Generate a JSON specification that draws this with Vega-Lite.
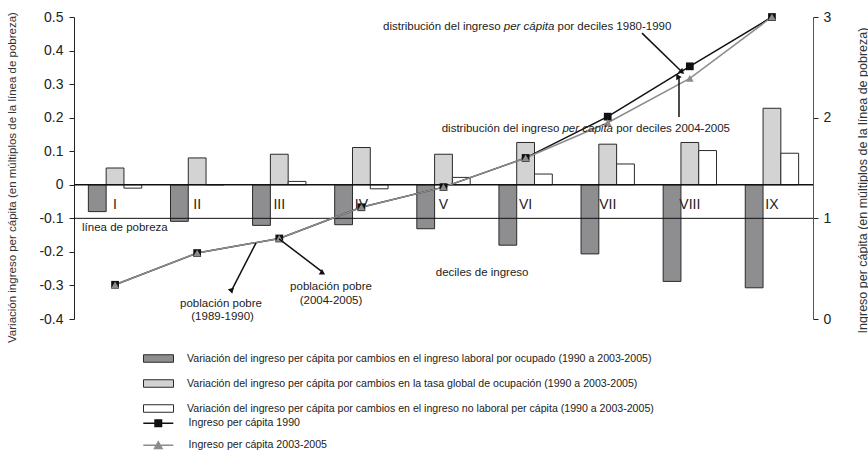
{
  "$schema": "https://vega.github.io/schema/vega-lite/v6.json",
  "width": 739,
  "height": 302,
  "autosize": "none",
  "padding": {"left": 74, "top": 17, "right": 55, "bottom": 131},
  "config": {
    "font": "Liberation Sans",
    "view": {"stroke": null},
    "axis": {"grid": false, "titleFontWeight": "normal", "labelColor": "#222", "titleColor": "#333", "domainColor": "#222", "tickColor": "#222", "tickSize": 5, "labelFontSize": 14, "labelOverlap": false}
  },
  "datasets": {
    "barras": [
      {"decil": "I", "serie": "Variación del ingreso per cápita por cambios en el ingreso laboral por ocupado (1990 a 2003-2005)", "valor": -0.08},
      {"decil": "I", "serie": "Variación del ingreso per cápita por cambios en la tasa global de ocupación (1990 a 2003-2005)", "valor": 0.05},
      {"decil": "I", "serie": "Variación del ingreso per cápita por cambios en el ingreso no laboral per cápita (1990 a 2003-2005)", "valor": -0.01},
      {"decil": "II", "serie": "Variación del ingreso per cápita por cambios en el ingreso laboral por ocupado (1990 a 2003-2005)", "valor": -0.109},
      {"decil": "II", "serie": "Variación del ingreso per cápita por cambios en la tasa global de ocupación (1990 a 2003-2005)", "valor": 0.08},
      {"decil": "II", "serie": "Variación del ingreso per cápita por cambios en el ingreso no laboral per cápita (1990 a 2003-2005)", "valor": 0.0},
      {"decil": "III", "serie": "Variación del ingreso per cápita por cambios en el ingreso laboral por ocupado (1990 a 2003-2005)", "valor": -0.121},
      {"decil": "III", "serie": "Variación del ingreso per cápita por cambios en la tasa global de ocupación (1990 a 2003-2005)", "valor": 0.091},
      {"decil": "III", "serie": "Variación del ingreso per cápita por cambios en el ingreso no laboral per cápita (1990 a 2003-2005)", "valor": 0.01},
      {"decil": "IV", "serie": "Variación del ingreso per cápita por cambios en el ingreso laboral por ocupado (1990 a 2003-2005)", "valor": -0.119},
      {"decil": "IV", "serie": "Variación del ingreso per cápita por cambios en la tasa global de ocupación (1990 a 2003-2005)", "valor": 0.111},
      {"decil": "IV", "serie": "Variación del ingreso per cápita por cambios en el ingreso no laboral per cápita (1990 a 2003-2005)", "valor": -0.012},
      {"decil": "V", "serie": "Variación del ingreso per cápita por cambios en el ingreso laboral por ocupado (1990 a 2003-2005)", "valor": -0.131},
      {"decil": "V", "serie": "Variación del ingreso per cápita por cambios en la tasa global de ocupación (1990 a 2003-2005)", "valor": 0.091},
      {"decil": "V", "serie": "Variación del ingreso per cápita por cambios en el ingreso no laboral per cápita (1990 a 2003-2005)", "valor": 0.022},
      {"decil": "VI", "serie": "Variación del ingreso per cápita por cambios en el ingreso laboral por ocupado (1990 a 2003-2005)", "valor": -0.18},
      {"decil": "VI", "serie": "Variación del ingreso per cápita por cambios en la tasa global de ocupación (1990 a 2003-2005)", "valor": 0.126},
      {"decil": "VI", "serie": "Variación del ingreso per cápita por cambios en el ingreso no laboral per cápita (1990 a 2003-2005)", "valor": 0.032},
      {"decil": "VII", "serie": "Variación del ingreso per cápita por cambios en el ingreso laboral por ocupado (1990 a 2003-2005)", "valor": -0.206},
      {"decil": "VII", "serie": "Variación del ingreso per cápita por cambios en la tasa global de ocupación (1990 a 2003-2005)", "valor": 0.121},
      {"decil": "VII", "serie": "Variación del ingreso per cápita por cambios en el ingreso no laboral per cápita (1990 a 2003-2005)", "valor": 0.062},
      {"decil": "VIII", "serie": "Variación del ingreso per cápita por cambios en el ingreso laboral por ocupado (1990 a 2003-2005)", "valor": -0.288},
      {"decil": "VIII", "serie": "Variación del ingreso per cápita por cambios en la tasa global de ocupación (1990 a 2003-2005)", "valor": 0.126},
      {"decil": "VIII", "serie": "Variación del ingreso per cápita por cambios en el ingreso no laboral per cápita (1990 a 2003-2005)", "valor": 0.102},
      {"decil": "IX", "serie": "Variación del ingreso per cápita por cambios en el ingreso laboral por ocupado (1990 a 2003-2005)", "valor": -0.307},
      {"decil": "IX", "serie": "Variación del ingreso per cápita por cambios en la tasa global de ocupación (1990 a 2003-2005)", "valor": 0.228},
      {"decil": "IX", "serie": "Variación del ingreso per cápita por cambios en el ingreso no laboral per cápita (1990 a 2003-2005)", "valor": 0.094}
    ],
    "ingreso": [
      {"decil": "I", "serie2": "Ingreso per cápita 1990", "ingreso": 0.34},
      {"decil": "II", "serie2": "Ingreso per cápita 1990", "ingreso": 0.655},
      {"decil": "III", "serie2": "Ingreso per cápita 1990", "ingreso": 0.80},
      {"decil": "IV", "serie2": "Ingreso per cápita 1990", "ingreso": 1.11},
      {"decil": "V", "serie2": "Ingreso per cápita 1990", "ingreso": 1.31},
      {"decil": "VI", "serie2": "Ingreso per cápita 1990", "ingreso": 1.60},
      {"decil": "VII", "serie2": "Ingreso per cápita 1990", "ingreso": 2.01},
      {"decil": "VIII", "serie2": "Ingreso per cápita 1990", "ingreso": 2.51},
      {"decil": "IX", "serie2": "Ingreso per cápita 1990", "ingreso": 3.0},
      {"decil": "I", "serie2": "Ingreso per cápita 2003-2005", "ingreso": 0.34},
      {"decil": "II", "serie2": "Ingreso per cápita 2003-2005", "ingreso": 0.655},
      {"decil": "III", "serie2": "Ingreso per cápita 2003-2005", "ingreso": 0.80},
      {"decil": "IV", "serie2": "Ingreso per cápita 2003-2005", "ingreso": 1.11},
      {"decil": "V", "serie2": "Ingreso per cápita 2003-2005", "ingreso": 1.31},
      {"decil": "VI", "serie2": "Ingreso per cápita 2003-2005", "ingreso": 1.60},
      {"decil": "VII", "serie2": "Ingreso per cápita 2003-2005", "ingreso": 1.95},
      {"decil": "VIII", "serie2": "Ingreso per cápita 2003-2005", "ingreso": 2.39},
      {"decil": "IX", "serie2": "Ingreso per cápita 2003-2005", "ingreso": 3.0}
    ],
    "deciles": [
      {"decil": "I"}, {"decil": "II"}, {"decil": "III"}, {"decil": "IV"}, {"decil": "V"},
      {"decil": "VI"}, {"decil": "VII"}, {"decil": "VIII"}, {"decil": "IX"}
    ],
    "rotulos": [
      {"texto": "línea de pobreza", "u": 0.62, "v": -0.128},
      {"texto": "deciles de ingreso", "u": 4.97, "v": -0.262},
      {"texto": "población pobre", "u": 1.79, "v": -0.354},
      {"texto": "(1989-1990)", "u": 1.81, "v": -0.393},
      {"texto": "población pobre", "u": 3.13, "v": -0.304},
      {"texto": "(2004-2005)", "u": 3.13, "v": -0.345}
    ],
    "rotulos_normal": [
      {"texto": "distribución del ingreso", "u": 3.763, "v": 0.470},
      {"texto": "por deciles 1980-1990", "u": 5.889, "v": 0.470},
      {"texto": "distribución del ingreso", "u": 4.478, "v": 0.167},
      {"texto": "por deciles 2004-2005", "u": 6.603, "v": 0.167}
    ],
    "rotulos_cursiva": [
      {"texto": "per cápita", "u": 5.234, "v": 0.470},
      {"texto": "per cápita", "u": 5.949, "v": 0.167}
    ],
    "flechas": [
      {"flecha": "1980-1990", "u1": 6.918, "v1": 0.452, "u2": 7.405, "v2": 0.336},
      {"flecha": "2004-2005", "u1": 7.368, "v1": 0.202, "u2": 7.368, "v2": 0.321},
      {"flecha": "pobre 1989-1990", "u1": 2.217, "v1": -0.173, "u2": 1.924, "v2": -0.3125},
      {"flecha": "pobre 2004-2005", "u1": 2.497, "v1": -0.161, "u2": 3.02, "v2": -0.259}
    ]
  },
  "layer": [
    {
      "data": {"name": "barras"},
      "mark": {"type": "bar", "stroke": "#2a2a2a", "strokeWidth": 1},
      "encoding": {
        "x": {"field": "decil", "type": "nominal", "sort": ["I", "II", "III", "IV", "V", "VI", "VII", "VIII", "IX"], "scale": {"type": "band", "paddingInner": 0.35, "paddingOuter": 0.175}, "axis": null},
        "xOffset": {"field": "serie", "type": "nominal", "sort": null, "scale": {"paddingInner": 0, "paddingOuter": 0}},
        "y": {"field": "valor", "type": "quantitative", "scale": {"domain": [-0.4, 0.5], "nice": false, "zero": false},
          "axis": {"orient": "left", "values": [-0.4, -0.3, -0.2, -0.1, 0, 0.1, 0.2, 0.3, 0.4, 0.5], "labelOverlap": false, "labelExpr": "replace(format(datum.value, '.1~f'), '\u2212', '-')", "labelPadding": 6,
            "title": "Variación ingreso per cápita (en múltiplos de la línea de pobreza)", "titleFontSize": 11.5, "titleX": -62, "titleY": 160, "titleAngle": 270, "titleAlign": "center", "titleBaseline": "middle"}},
        "fill": {"field": "serie", "type": "nominal",
          "scale": {"domain": [
            "Variación del ingreso per cápita por cambios en el ingreso laboral por ocupado (1990 a 2003-2005)",
            "Variación del ingreso per cápita por cambios en la tasa global de ocupación (1990 a 2003-2005)",
            "Variación del ingreso per cápita por cambios en el ingreso no laboral per cápita (1990 a 2003-2005)"],
            "range": ["#8e8e91", "#d3d3d3", "#ffffff"]},
          "legend": {"title": null, "orient": "none", "legendX": 79, "legendY": 336, "direction": "vertical", "symbolType": "M-3,-0.75H3V0.75H-3Z", "symbolSize": 100, "symbolStrokeColor": "#2a2a2a", "symbolStrokeWidth": 1, "labelFontSize": 10.6, "labelColor": "#222", "labelLimit": 800, "labelOffset": 23, "rowPadding": 12, "padding": 0}}
      }
    },
    {
      "layer": [
        {
          "data": {"values": [{}]},
          "mark": {"type": "rule", "color": "#111", "strokeWidth": 1.5},
          "encoding": {"y": {"datum": 0, "type": "quantitative", "scale": {"domain": [-0.4, 0.5], "nice": false, "zero": false}, "axis": null}}
        },
        {
          "data": {"values": [{}]},
          "mark": {"type": "rule", "color": "#111", "strokeWidth": 1},
          "encoding": {"y": {"datum": -0.1, "type": "quantitative", "scale": {"domain": [-0.4, 0.5], "nice": false, "zero": false}, "axis": null}}
        },
        {
          "data": {"name": "deciles"},
          "mark": {"type": "text", "fontSize": 14, "color": "#222", "baseline": "middle", "align": "center"},
          "encoding": {
            "x": {"field": "decil", "type": "nominal", "sort": ["I", "II", "III", "IV", "V", "VI", "VII", "VIII", "IX"], "scale": {"type": "point", "padding": 0.5}, "axis": null},
            "y": {"datum": -0.06, "type": "quantitative", "scale": {"domain": [-0.4, 0.5], "nice": false, "zero": false}, "axis": null},
            "text": {"field": "decil"}
          }
        }
      ]
    },
    {
      "data": {"name": "ingreso"},
      "encoding": {
        "x": {"field": "decil", "type": "nominal", "sort": ["I", "II", "III", "IV", "V", "VI", "VII", "VIII", "IX"], "scale": {"type": "point", "padding": 0.5}, "axis": null},
        "y": {"field": "ingreso", "type": "quantitative", "scale": {"domain": [0, 3], "nice": false, "zero": false},
          "axis": {"orient": "right", "values": [0, 1, 2, 3], "domainColor": "#555", "labelPadding": 5,
            "title": "Ingreso per cápita (en múltiplos de la línea de pobreza)", "titleFontSize": 12.5, "titleAngle": 270, "titleX": 49, "titleY": 163, "titleAlign": "center", "titleBaseline": "middle"}}
      },
      "layer": [
        {
          "mark": {"type": "line", "strokeWidth": 1.5},
          "encoding": {
            "color": {"field": "serie2", "type": "nominal",
              "scale": {"domain": ["Ingreso per cápita 1990", "Ingreso per cápita 2003-2005"], "range": ["#111111", "#8c8c8c"]},
              "legend": null}
          }
        },
        {
          "mark": {"type": "point", "filled": true, "opacity": 1, "size": 60},
          "encoding": {
            "fill": {"field": "serie2", "type": "nominal", "scale": {"domain": ["Ingreso per cápita 1990", "Ingreso per cápita 2003-2005"], "range": ["#111111", "#8c8c8c"]}, "legend": null},
            "shape": {"field": "serie2", "type": "nominal", "scale": {"domain": ["Ingreso per cápita 1990", "Ingreso per cápita 2003-2005"], "range": ["square", "triangle-up"]}, "legend": null}
          }
        }
      ]
    },
    {
      "encoding": {
        "x": {"type": "quantitative", "scale": {"domain": [0, 9], "nice": false, "zero": false}, "axis": null},
        "y": {"type": "quantitative", "scale": {"domain": [-0.4, 0.5], "nice": false, "zero": false}, "axis": null}
      },
      "layer": [
        {
          "data": {"name": "rotulos"},
          "mark": {"type": "text", "fontSize": 11.5, "color": "#222", "align": "center", "baseline": "middle"},
          "encoding": {"x": {"field": "u", "type": "quantitative"}, "y": {"field": "v", "type": "quantitative"}, "text": {"field": "texto"}}
        },
        {
          "data": {"name": "rotulos_normal"},
          "mark": {"type": "text", "fontSize": 11.5, "color": "#222", "align": "left", "baseline": "middle"},
          "encoding": {"x": {"field": "u", "type": "quantitative"}, "y": {"field": "v", "type": "quantitative"}, "text": {"field": "texto"}}
        },
        {
          "data": {"name": "rotulos_cursiva"},
          "mark": {"type": "text", "fontSize": 11.5, "color": "#222", "align": "left", "baseline": "middle", "fontStyle": "italic"},
          "encoding": {"x": {"field": "u", "type": "quantitative"}, "y": {"field": "v", "type": "quantitative"}, "text": {"field": "texto"}}
        },
        {
          "data": {"name": "flechas"},
          "mark": {"type": "rule", "color": "#111", "strokeWidth": 1.5},
          "encoding": {"x": {"field": "u1", "type": "quantitative"}, "y": {"field": "v1", "type": "quantitative"}, "x2": {"field": "u2"}, "y2": {"field": "v2"}}
        },
        {
          "data": {"name": "flechas"},
          "mark": {"type": "point", "shape": "triangle-up", "filled": true, "color": "#111", "opacity": 1, "size": 40},
          "encoding": {
            "x": {"field": "u2", "type": "quantitative"},
            "y": {"field": "v2", "type": "quantitative"},
            "angle": {"field": "flecha", "type": "nominal", "scale": {"domain": ["1980-1990", "2004-2005", "pobre 1989-1990", "pobre 2004-2005"], "range": [134.3, 0, 207, 127.5]}, "legend": null}
          }
        }
      ]
    },
    {
      "data": {"name": "ingreso"},
      "mark": {"type": "point", "filled": true, "opacity": 0},
      "encoding": {
        "shape": {"field": "serie2", "type": "nominal",
          "scale": {"domain": ["Ingreso per cápita 1990", "Ingreso per cápita 2003-2005"], "range": ["M-3,-0.15H3V0.15H-3Z M-0.8,-0.8H0.8V0.8H-0.8Z", "M-3,-0.15H3V0.15H-3Z M0,-1L1,0.8H-1Z"]},
          "legend": {"title": null, "orient": "none", "legendX": 79, "legendY": 401, "direction": "vertical", "symbolSize": 100, "symbolOpacity": 1, "symbolStrokeWidth": 0, "labelFontSize": 10.6, "labelColor": "#222", "labelLimit": 800, "labelOffset": 25, "rowPadding": 11, "padding": 0}},
        "fill": {"field": "serie2", "type": "nominal",
          "scale": {"domain": ["Ingreso per cápita 1990", "Ingreso per cápita 2003-2005"], "range": ["#111111", "#8c8c8c"]},
          "legend": {"title": null, "orient": "none", "legendX": 79, "legendY": 401, "direction": "vertical", "symbolSize": 100, "symbolOpacity": 1, "symbolStrokeWidth": 0, "labelFontSize": 10.6, "labelColor": "#222", "labelLimit": 800, "labelOffset": 25, "rowPadding": 11, "padding": 0}}
      }
    }
  ],
  "resolve": {"scale": {"x": "independent", "y": "independent", "color": "independent", "fill": "independent", "shape": "independent", "angle": "independent"}}
}
